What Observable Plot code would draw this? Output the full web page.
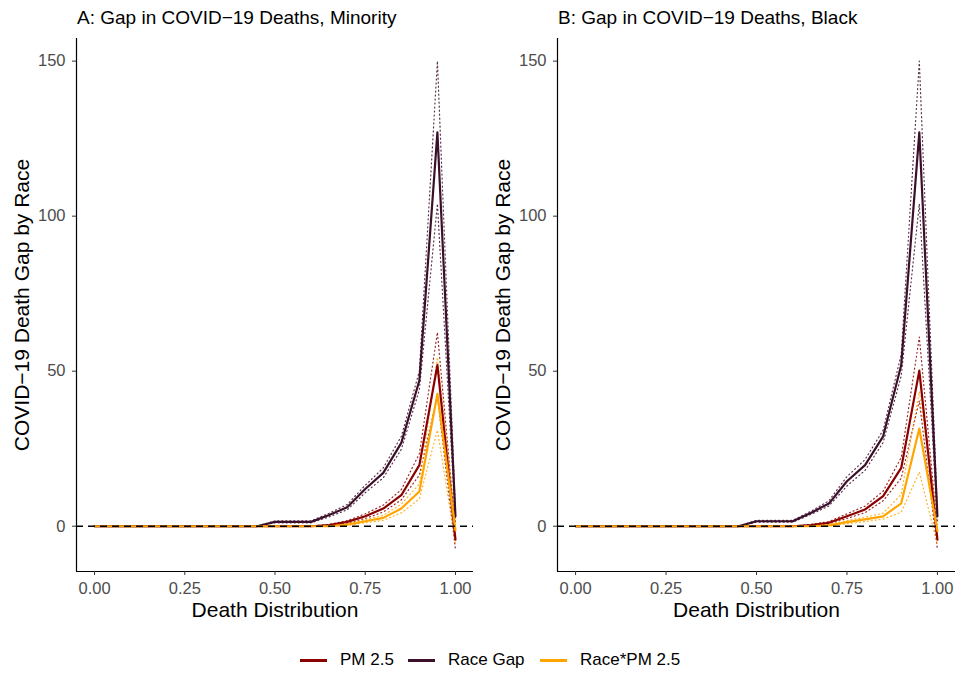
<!DOCTYPE html>
<html>
<head>
<meta charset="utf-8">
<script src="https://cdn.jsdelivr.net/npm/d3@7"></script>
<script src="https://cdn.jsdelivr.net/npm/@observablehq/plot@0.6"></script>
<style>
  body { margin: 0; background: #fff; font-family: "Liberation Sans", Arial, sans-serif; }
  #wrap { position: relative; width: 956px; height: 673px; overflow: hidden; }
  .panel { position: absolute; top: 0; }
  .title { position: absolute; top: 7px; font-size: 19px; color: #000; white-space: nowrap; }
  .legend-item { position: absolute; top: 650px; height: 20px; display: flex; align-items: center; font-size: 17px; color: #000; white-space: nowrap; }
  .legend-key { width: 27px; height: 3px; margin-right: 13px; }
</style>
</head>
<body>
<div id="wrap"></div>
<script>
// ---- data ----
const quantiles = [0, 0.05, 0.10, 0.15, 0.20, 0.25, 0.30, 0.35, 0.40, 0.45, 0.50, 0.55, 0.60, 0.65, 0.70, 0.75, 0.80, 0.85, 0.90, 0.95, 1.00];
const seriesNames = ["PM 2.5", "Race Gap", "Race*PM 2.5"];
const seriesColors = ["#8B0000", "#3C0F2A", "#FFA500"];
const panelTitles = ["A: Gap in COVID\u221219 Deaths, Minority", "B: Gap in COVID\u221219 Deaths, Black"];
const xTicks = [0, 0.25, 0.5, 0.75, 1];
const yTicks = [0, 50, 100, 150];
const xLabel = "Death Distribution";
const yLabel = "COVID\u221219 Death Gap by Race";

// Panel A (Minority)
const raceA    = [0,0,0,0,0,0,0,0,0,0, 1.4, 1.4, 1.4, 3.6, 6.1, 12.0, 17.2, 26.9, 47.0, 127, 3.2];
const raceA_lo = [0,0,0,0,0,0,0,0,0,0, 1.1, 1.1, 1.1, 3.0, 5.3, 10.8, 15.6, 24.8, 44.0, 104, 1.5];
const raceA_hi = [0,0,0,0,0,0,0,0,0,0, 1.7, 1.7, 1.7, 4.2, 7.0, 13.2, 18.8, 29.0, 50.0, 150, 5.0];
const pmA      = [0,0,0,0,0,0,0,0,0,0,0,0,0, 0.4, 1.4, 3.2, 5.7, 10.0, 19.7, 52.0, -4.3];
const pmA_lo   = [0,0,0,0,0,0,0,0,0,0,0,0,0, 0.2, 1.0, 2.5, 4.6, 8.5, 16.5, 42.0, -7.5];
const pmA_hi   = [0,0,0,0,0,0,0,0,0,0,0,0,0, 0.6, 1.8, 4.0, 6.8, 11.8, 23.4, 62.5, -1.2];
const intA     = [0,0,0,0,0,0,0,0,0,0,0,0,0,0, 0.5, 1.6, 2.7, 5.7, 11.2, 42.7, -1.3];
const intA_lo  = [0,0,0,0,0,0,0,0,0,0,0,0,0,0, 0.3, 1.1, 1.9, 4.3, 8.8, 31.0, -5.5];
const intA_hi  = [0,0,0,0,0,0,0,0,0,0,0,0,0,0, 0.7, 2.1, 3.5, 7.1, 13.6, 54.5, 1.5];

// Panel B (Black)
const raceB    = [0,0,0,0,0,0,0,0,0,0, 1.6, 1.6, 1.6, 4.3, 7.3, 14.5, 19.7, 29.0, 52.0, 127, 3.2];
const raceB_lo = [0,0,0,0,0,0,0,0,0,0, 1.3, 1.3, 1.3, 3.8, 6.5, 13.0, 18.0, 27.0, 48.5, 104, 1.5];
const raceB_hi = [0,0,0,0,0,0,0,0,0,0, 1.9, 1.9, 1.9, 4.8, 8.2, 16.0, 21.5, 31.0, 55.5, 150, 5.0];
const pmB      = [0,0,0,0,0,0,0,0,0,0,0,0,0, 0.4, 1.1, 3.2, 5.4, 9.7, 18.8, 50.2, -4.3];
const pmB_lo   = [0,0,0,0,0,0,0,0,0,0,0,0,0, 0.2, 0.8, 2.5, 4.4, 8.2, 15.5, 40.5, -7.5];
const pmB_hi   = [0,0,0,0,0,0,0,0,0,0,0,0,0, 0.6, 1.5, 4.0, 6.5, 11.3, 22.2, 61.0, -1.2];
const intB     = [0,0,0,0,0,0,0,0,0,0,0,0,0,0, 0.3, 1.3, 2.2, 3.2, 7.4, 31.5, -1.5];
const intB_lo  = [0,0,0,0,0,0,0,0,0,0,0,0,0,0, 0.1, 0.8, 1.5, 2.3, 4.5, 17.5, -6.0];
const intB_hi  = [0,0,0,0,0,0,0,0,0,0,0,0,0,0, 0.5, 1.8, 2.9, 4.2, 10.3, 43.5, 2.5];

// ---- build tables ----
function table(pm, pmLo, pmHi, race, raceLo, raceHi, int, intLo, intHi) {
  const rows = [];
  const sets = [[pm, pmLo, pmHi], [race, raceLo, raceHi], [int, intLo, intHi]];
  sets.forEach(([v, lo, hi], s) => {
    quantiles.forEach((q, i) => rows.push({series: seriesNames[s], x: q, y: v[i], lo: lo[i], hi: hi[i]}));
  });
  return rows;
}
const dataA = table(pmA, pmA_lo, pmA_hi, raceA, raceA_lo, raceA_hi, intA, intA_lo, intA_hi);
const dataB = table(pmB, pmB_lo, pmB_hi, raceB, raceB_lo, raceB_hi, intB, intB_lo, intB_hi);

const xDomain = [-0.05, 1.05];
const yDomain = [-14.6, 157.3];

function panel(data, marginLeft, marginRight) {
  return Plot.plot({
    width: 478,
    height: 630,
    marginLeft, marginRight,
    marginTop: 38,
    marginBottom: 59,
    style: {fontFamily: "Liberation Sans, Arial, sans-serif", fontSize: "16.5px", color: "#4d4d4d", background: "white", overflow: "visible"},
    x: {domain: xDomain},
    y: {domain: yDomain},
    color: {domain: seriesNames, range: seriesColors},
    marks: [
      Plot.line(data, {x: "x", y: "lo", z: "series", stroke: "series", strokeWidth: 1.2, strokeDasharray: "1,3", strokeOpacity: 0.85}),
      Plot.line(data, {x: "x", y: "hi", z: "series", stroke: "series", strokeWidth: 1.2, strokeDasharray: "1,3", strokeOpacity: 0.85}),
      Plot.line(data, {x: "x", y: "y", z: "series", stroke: "series", strokeWidth: 2.2}),
      Plot.ruleY([0], {stroke: "black", strokeWidth: 1.3, strokeDasharray: "7,5"}),
      Plot.ruleX([xDomain[0]], {stroke: "black", strokeWidth: 1.2}),
      Plot.ruleY([yDomain[0]], {stroke: "black", strokeWidth: 1.2}),
      Plot.axisX({ticks: xTicks, tickFormat: d3.format(".2f"), tickSize: 4, tickPadding: 7, label: null, stroke: "#333", fill: "#4d4d4d"}),
      Plot.axisY({ticks: yTicks, tickSize: 4, tickPadding: 7, label: null, stroke: "#333", fill: "#4d4d4d"}),
      Plot.text([xLabel], {frameAnchor: "bottom", textAnchor: "middle", lineAnchor: "middle", dy: 39, fontSize: 21, fill: "black"}),
      Plot.text([yLabel], {frameAnchor: "left", textAnchor: "middle", lineAnchor: "middle", dx: -54, rotate: -90, fontSize: 21, fill: "black"})
    ]
  });
}

const wrap = document.getElementById("wrap");
const pA = panel(dataA, 76, 5);
const pB = panel(dataB, 79, 1);
const dA = document.createElement("div"); dA.className = "panel"; dA.style.left = "0px"; dA.appendChild(pA);
const dB = document.createElement("div"); dB.className = "panel"; dB.style.left = "478px"; dB.appendChild(pB);
wrap.appendChild(dA); wrap.appendChild(dB);

[[panelTitles[0], 77], [panelTitles[1], 558]].forEach(([t, left]) => {
  const d = document.createElement("div");
  d.className = "title"; d.style.left = left + "px"; d.textContent = t;
  wrap.appendChild(d);
});

const legendLefts = [300, 408, 540];
seriesNames.forEach((name, i) => {
  const item = document.createElement("div");
  item.className = "legend-item";
  item.style.left = legendLefts[i] + "px";
  const key = document.createElement("span");
  key.className = "legend-key";
  key.style.background = seriesColors[i];
  const label = document.createElement("span");
  label.textContent = name;
  item.appendChild(key); item.appendChild(label);
  wrap.appendChild(item);
});
</script>
</body>
</html>
